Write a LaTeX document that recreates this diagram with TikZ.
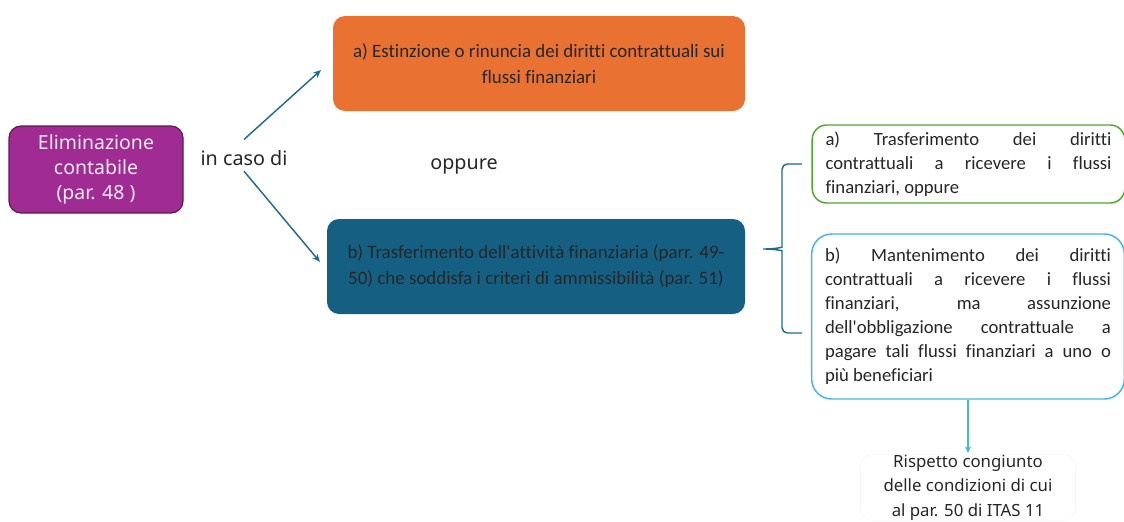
\documentclass[tikz,border=0pt]{standalone}
\usepackage{fontspec}
\setmainfont{Noto Sans}
\newfontfamily\boxfont[Ligatures=NoCommon]{Carlito}
\usetikzlibrary{arrows.meta}

\definecolor{elimpurple}{HTML}{A02B93}
\definecolor{elimborder}{HTML}{5E1A56}
\definecolor{caseorange}{HTML}{E97132}
\definecolor{caseblue}{HTML}{156082}
\definecolor{arrowteal}{HTML}{1F6D8E}
\definecolor{optgreen}{HTML}{4EA72E}
\definecolor{optcyan}{HTML}{45B4EA}

\begin{document}
\begin{tikzpicture}[x=0.75pt,y=-0.75pt,
  casebox/.style={rounded corners=9pt, draw=none, minimum height=71.25pt, align=center,
    text=black!85, font=\boxfont\fontsize{14.2}{19.5}\selectfont},
  optbox/.style={rounded corners=11pt, line width=1.1pt, fill=white, text width=214.5pt,
    align=justify, inner xsep=10pt, text=black!85, font=\boxfont\fontsize{14}{18}\selectfont},
  plain/.style={text=black!85, font=\fontsize{14.8}{19}\selectfont},
  caseline/.style={arrowteal, line width=1.1pt, -{Stealth[length=6pt,width=5pt]}}]
  \useasboundingbox (0,0) rectangle (1124,521);

  \node[rounded corners=9pt, fill=elimpurple, draw=elimborder, line width=0.9pt,
    minimum width=130.5pt, minimum height=65.25pt, align=center, text=white!90!elimpurple,
    font=\fontsize{14.6}{19}\selectfont] (elim) at (96,169.5) {Eliminazione\\contabile\\(par. 48 )};
  \node[plain, inner sep=0pt] (caso) at (244,158) {in caso di};
  \node[plain, inner sep=0pt] (oppure) at (464,166) {oppure};

  \node[casebox, fill=caseorange, minimum width=309pt] (estinz) at (539,63.5)
    {a) Estinzione o rinuncia dei diritti contrattuali sui\\flussi finanziari};
  \node[casebox, fill=caseblue, minimum width=313.5pt] (trasf) at (536,266.5)
    {b) Trasferimento dell'attività finanziaria (parr. 49-\\50) che soddisfa i criteri di ammissibilità (par. 51)};

  \node[optbox, draw=optgreen, minimum height=58.5pt] (optA) at (968.5,164)
    {a) Trasferimento dei diritti\linebreak contrattuali a ricevere i flussi\linebreak finanziari, oppure};
  \node[optbox, draw=optcyan, rounded corners=15pt, minimum height=123.75pt] (optB) at (968,316.5)
    {b) Mantenimento dei diritti\linebreak contrattuali a ricevere i flussi\linebreak finanziari, ma assunzione\linebreak dell'obbligazione contrattuale a\linebreak pagare tali flussi finanziari a uno o\linebreak più beneficiari};

  \node[plain, rounded corners=9pt, draw=black!4, minimum width=161.25pt, minimum height=48pt,
    inner sep=0pt, align=center, font=\fontsize{12.6}{18.5}\selectfont] (rispetto) at (968,487.5)
    {Rispetto congiunto\\delle condizioni di cui\\al par. 50 di ITAS 11};

  \coordinate (caseA) at (321,70);
  \coordinate (caseB) at (320,262);
  \draw[caseline] ([yshift=8pt]caso.north) -- (caseA);
  \draw[caseline] ([yshift=-4pt]caso.south) -- (caseB);

  \draw[arrowteal, line width=1.1pt, rounded corners=4pt]
    (802,164) -- (782,164) -- (782,242)
    .. controls (782,247) and (776,249) .. (760,249)
    .. controls (776,249) and (782,251) .. (782,256) -- (782,333) -- (802,333);

  \draw[optcyan, line width=1pt, -{Stealth[length=5pt,width=4.5pt]}] (optB.south) -- ([yshift=1pt]rispetto.north);
\end{tikzpicture}
\end{document}
